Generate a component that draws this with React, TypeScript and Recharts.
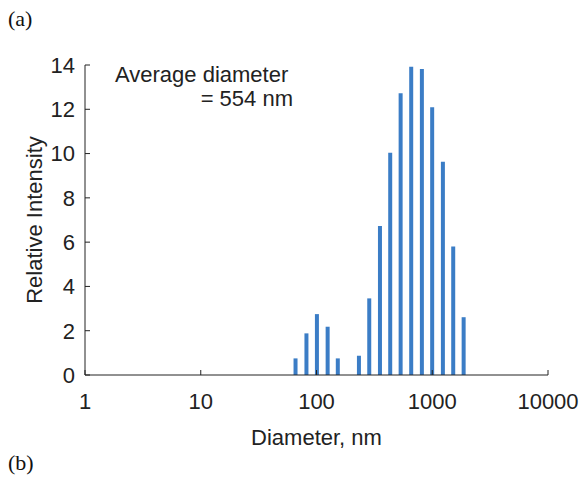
import { BarChart, Bar, XAxis, YAxis } from "recharts";

// size distribution (diameter in nm, relative intensity)
const diameters = [66, 82, 101, 125, 153, 233, 286, 354, 434, 534, 659, 815, 1000, 1238, 1520, 1870];
const intensities = [0.75, 1.88, 2.75, 2.18, 0.75, 0.87, 3.46, 6.73, 10.04, 12.72, 13.92, 13.82, 12.09, 9.63, 5.8, 2.61];

const xTicks = [1, 10, 100, 1000, 10000];
const yTicks = [0, 2, 4, 6, 8, 10, 12, 14];

const data = diameters.map((d, i) => ({ diameter: d, intensity: intensities[i] }));

const SANS = "'Liberation Sans', Arial, sans-serif";
const SERIF = "'Liberation Serif', 'Times New Roman', serif";
const INK = "#222";
const FS = 22;

// ticks point into the plot, so draw them together with the label
// eslint-disable-next-line @typescript-eslint/no-explicit-any
const XTick = (props: any) => {
  const { x, y, payload } = props;
  return (
    <g>
      <line x1={x} y1={y} x2={x} y2={y - 5} stroke={INK} />
      <text x={x} y={y + 18} dy="0.71em" textAnchor="middle" fill={INK} fontSize={FS} fontFamily={SANS}>
        {payload.value}
      </text>
    </g>
  );
};

// eslint-disable-next-line @typescript-eslint/no-explicit-any
const YTick = (props: any) => {
  const { x, y, payload } = props;
  return (
    <g>
      <line x1={x} y1={y} x2={x + 5} y2={y} stroke={INK} />
      <text x={x - 10} y={y} dy="0.355em" textAnchor="end" fill={INK} fontSize={FS} fontFamily={SANS}>
        {payload.value}
      </text>
    </g>
  );
};

export default function App() {
  return (
    <div style={{ position: "absolute", left: 0, top: 0, width: 582, height: 497, background: "#fff" }}>
      <div style={{ position: "absolute", left: 8, top: 6, fontFamily: SERIF, fontSize: 22, color: "#111" }}>(a)</div>
      <div style={{ position: "absolute", left: 8, top: 450, fontFamily: SERIF, fontSize: 22, color: "#111" }}>(b)</div>
      <BarChart
        width={582}
        height={497}
        data={data}
        margin={{ top: 65, right: 34, bottom: 52, left: 0 }}
        style={{ fontFamily: SANS }}
      >
        <XAxis
          dataKey="diameter"
          type="number"
          scale="log"
          domain={[1, 10000]}
          ticks={xTicks}
          allowDataOverflow
          height={70}
          tickSize={0}
          tickMargin={0}
          tickLine={false}
          stroke={INK}
          tick={<XTick />}
          label={{ value: "Diameter, nm", position: "insideBottom", offset: 0, fill: INK, fontSize: FS }}
        />
        <YAxis
          type="number"
          domain={[0, 14]}
          ticks={yTicks}
          width={85}
          tickSize={0}
          tickMargin={0}
          tickLine={false}
          stroke={INK}
          tick={<YTick />}
          label={{ value: "Relative Intensity", angle: -90, position: "center", dx: -8, fill: INK, fontSize: FS }}
        />
        <Bar dataKey="intensity" fill="#3b7dc6" barSize={4} isAnimationActive={false} />
        <text x={115} y={82} fontSize={FS} fill={INK} fontFamily={SANS}>
          Average diameter
        </text>
        <text x={293} y={106} fontSize={FS} fill={INK} fontFamily={SANS} textAnchor="end">
          = 554 nm
        </text>
      </BarChart>
    </div>
  );
}
